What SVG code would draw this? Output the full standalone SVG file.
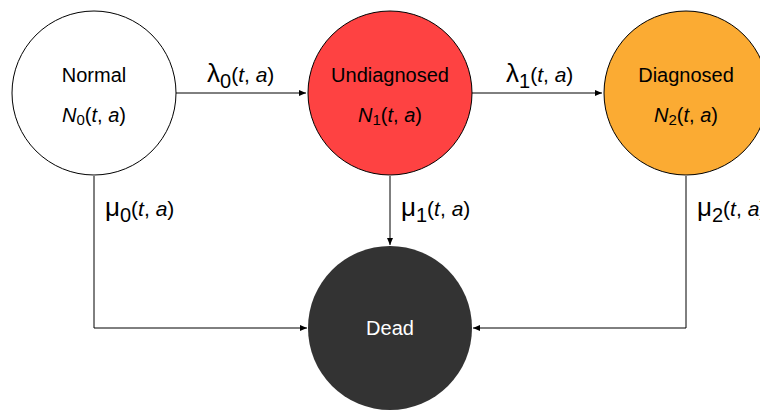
<svg xmlns="http://www.w3.org/2000/svg" width="760" height="410" viewBox="0 0 760 410">
<style>
text{font-family:"Liberation Sans",Arial,sans-serif;fill:#000}
.lab{font-size:20px;text-anchor:middle}
.edge{font-size:21px}
.g{font-size:26px}
.sub{font-size:20px}
.node{stroke:#000;stroke-width:1}
.conn{fill:none;stroke:#000;stroke-width:1}
</style>
<defs>
<marker id="ah" markerWidth="8" markerHeight="8" refX="7" refY="4" orient="auto" markerUnits="userSpaceOnUse">
<path d="M0,1 L7,4 L0,7 Z" fill="#000"/>
</marker>
</defs>
<rect width="760" height="410" fill="#fff"/>
<g id="connectors">
<path class="conn" d="M176,93 H306" marker-end="url(#ah)"/>
<path class="conn" d="M472,93 H602" marker-end="url(#ah)"/>
<path class="conn" d="M390,176 V245" marker-end="url(#ah)"/>
<path class="conn" d="M94,176 V328 H307" marker-end="url(#ah)"/>
<path class="conn" d="M686,176 V328 H473" marker-end="url(#ah)"/>
<text class="edge" x="207" y="82"><tspan class="g">λ</tspan><tspan class="sub" dy="6">0</tspan><tspan dy="-6">(</tspan><tspan font-style="italic">t</tspan>, <tspan font-style="italic">a</tspan>)</text>
<text class="edge" x="506" y="82"><tspan class="g">λ</tspan><tspan class="sub" dy="6">1</tspan><tspan dy="-6">(</tspan><tspan font-style="italic">t</tspan>, <tspan font-style="italic">a</tspan>)</text>
<text class="edge" x="105" y="216"><tspan class="g">μ</tspan><tspan class="sub" dy="6">0</tspan><tspan dy="-6">(</tspan><tspan font-style="italic">t</tspan>, <tspan font-style="italic">a</tspan>)</text>
<text class="edge" x="401" y="216"><tspan class="g">μ</tspan><tspan class="sub" dy="6">1</tspan><tspan dy="-6">(</tspan><tspan font-style="italic">t</tspan>, <tspan font-style="italic">a</tspan>)</text>
<text class="edge" x="697" y="216"><tspan class="g">μ</tspan><tspan class="sub" dy="6">2</tspan><tspan dy="-6">(</tspan><tspan font-style="italic">t</tspan>, <tspan font-style="italic">a</tspan>)</text>
</g>
<g id="normal">
<circle class="node" cx="94" cy="93" r="82" fill="#fff"/>
<text class="lab" x="94" y="82">Normal</text>
<text class="lab" x="94" y="122"><tspan font-style="italic">N</tspan><tspan font-size="15" dy="3">0</tspan><tspan dy="-3">(</tspan><tspan font-style="italic">t</tspan>, <tspan font-style="italic">a</tspan>)</text>
</g>
<g id="undiagnosed">
<circle class="node" cx="390" cy="93" r="82" fill="#fe4242"/>
<text class="lab" x="390" y="82">Undiagnosed</text>
<text class="lab" x="390" y="122"><tspan font-style="italic">N</tspan><tspan font-size="15" dy="3">1</tspan><tspan dy="-3">(</tspan><tspan font-style="italic">t</tspan>, <tspan font-style="italic">a</tspan>)</text>
</g>
<g id="diagnosed">
<circle class="node" cx="686" cy="93" r="82" fill="#fbab33"/>
<text class="lab" x="686" y="82">Diagnosed</text>
<text class="lab" x="686" y="122"><tspan font-style="italic">N</tspan><tspan font-size="15" dy="3">2</tspan><tspan dy="-3">(</tspan><tspan font-style="italic">t</tspan>, <tspan font-style="italic">a</tspan>)</text>
</g>
<g id="dead">
<circle cx="390" cy="328" r="82" fill="#333333"/>
<text class="lab" x="390" y="335" style="fill:#fff">Dead</text>
</g>
</svg>
